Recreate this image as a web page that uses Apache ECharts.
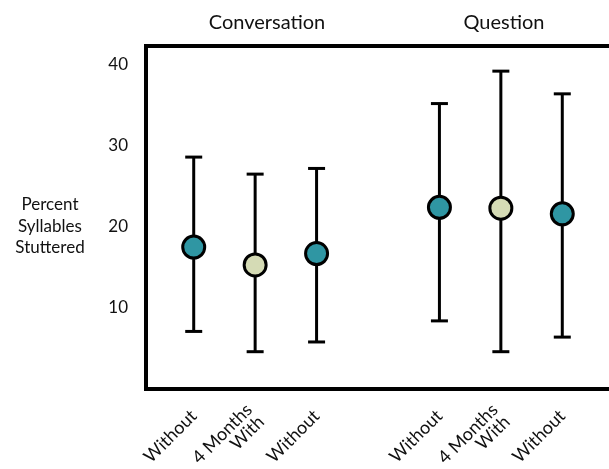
<!DOCTYPE html>
<html>
<head>
<meta charset="utf-8">
<script src="https://cdn.jsdelivr.net/npm/echarts@6/dist/echarts.min.js"></script>
<style>
  html, body { margin: 0; padding: 0; background: #fff; }
  #chart { width: 609px; height: 469px; }
</style>
</head>
<body>
<div id="chart"></div>
<script>
// conditions along the x axis (blank slot separates the two speaking tasks)
var categories = ['Without', '4 Months\nWith', 'Without', '', 'Without', '4 Months\nWith', 'Without'];
var means = [17.5, 15.3, 16.7, null, 22.4, 22.3, 21.6];
var lows  = [7.1, 4.6, 5.8, null, 8.4, 4.6, 6.4];
var highs = [28.6, 26.5, 27.2, null, 35.2, 39.2, 36.4];
var withDevice = [false, true, false, false, false, true, false];
var groupTitles = ['Conversation', 'Question'];
var yTicks = [10, 20, 30, 40];

var FONT = 'Lato';
var myChart = echarts.init(document.getElementById('chart'));

var pointData = [];
var barData = [];
for (var i = 0; i < categories.length; i++) {
    if (means[i] == null) continue;
    pointData.push({
        value: [i, means[i]],
        itemStyle: { color: withDevice[i] ? '#d5dbb5' : '#2f96a3' }
    });
    barData.push([i, lows[i], highs[i]]);
}

myChart.setOption({
    animation: false,
    textStyle: { fontFamily: FONT },
    title: [
        { text: groupTitles[0], left: 262, top: 8, textAlign: 'center',
          textStyle: { fontFamily: FONT, fontSize: 20, fontWeight: 'normal', color: '#111' } },
        { text: groupTitles[1], left: 499, top: 8, textAlign: 'center',
          textStyle: { fontFamily: FONT, fontSize: 20, fontWeight: 'normal', color: '#111' } }
    ],
    graphic: [{
        type: 'text',
        x: 50, y: 194,
        style: {
            text: 'Percent\nSyllables\nStuttered',
            font: '17px ' + FONT,
            fill: '#111',
            align: 'center',
            lineHeight: 21.5
        }
    }],
    grid: [
        // frame (right side runs past the canvas)
        { left: 146, width: 490, top: 46, bottom: 80, show: true, outerBoundsMode: 'none',
          borderColor: '#000', borderWidth: 4, backgroundColor: 'transparent' },
        // data area
        { left: 163, right: 16, top: 46, bottom: 80, outerBoundsMode: 'none' }
    ],
    xAxis: [
        { gridIndex: 0, type: 'value', show: false },
        {
            gridIndex: 1,
            type: 'category',
            data: categories,
            boundaryGap: true,
            axisLine: { show: false },
            axisTick: { show: false },
            axisLabel: {
                rotate: 45,
                margin: 24,
                interval: 0,
                fontFamily: FONT,
                fontSize: 18,
                color: '#111',
                lineHeight: 17
            }
        }
    ],
    yAxis: [
        {
            gridIndex: 0,
            type: 'value',
            min: 0, max: 42.3, interval: 10,
            axisLine: { show: false },
            axisTick: { show: false },
            splitLine: { show: false },
            axisLabel: {
                margin: 18,
                fontFamily: FONT,
                fontSize: 17,
                color: '#111',
                showMinLabel: false,
                showMaxLabel: false,
                formatter: function (v) { return yTicks.indexOf(v) >= 0 ? String(v) : ''; }
            }
        },
        { gridIndex: 1, type: 'value', min: 0, max: 42.3, show: false }
    ],
    series: [
        {
            type: 'custom',
            xAxisIndex: 1,
            yAxisIndex: 1,
            data: barData,
            z: 2,
            renderItem: function (params, api) {
                var x = api.coord([api.value(0), 0])[0];
                var lo = api.coord([api.value(0), api.value(1)])[1];
                var hi = api.coord([api.value(0), api.value(2)])[1];
                var half = 8.5;
                var style = { stroke: '#000', lineWidth: 3 };
                return {
                    type: 'group',
                    children: [
                        { type: 'line', shape: { x1: x, y1: lo, x2: x, y2: hi }, style: style },
                        { type: 'line', shape: { x1: x - half, y1: hi, x2: x + half, y2: hi }, style: style },
                        { type: 'line', shape: { x1: x - half, y1: lo, x2: x + half, y2: lo }, style: style }
                    ]
                };
            }
        },
        {
            type: 'scatter',
            xAxisIndex: 1,
            yAxisIndex: 1,
            symbol: 'circle',
            symbolSize: 22,
            z: 3,
            itemStyle: { borderColor: '#000', borderWidth: 3, opacity: 1 },
            data: pointData
        }
    ]
});
</script>
</body>
</html>
